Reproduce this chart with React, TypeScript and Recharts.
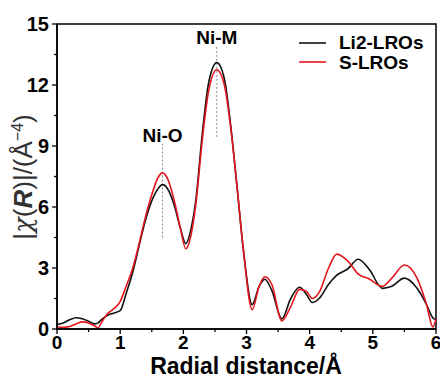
import {
  LineChart,
  Line,
  XAxis,
  YAxis,
  ReferenceArea,
  ReferenceLine,
  ReferenceDot,
} from 'recharts';

// radial distance (Å), shared by both curves
const radius = [
  0, 0.1, 0.2, 0.3, 0.4, 0.5, 0.6, 0.65, 0.7, 0.8, 0.9, 1.0, 1.1, 1.2, 1.3, 1.4,
  1.5, 1.6, 1.67, 1.75, 1.85, 1.95, 2.04, 2.12, 2.2, 2.3, 2.4, 2.53, 2.65, 2.75,
  2.85, 2.95, 3.09, 3.2, 3.29, 3.4, 3.56, 3.7, 3.84, 3.95, 4.04, 4.15, 4.3, 4.43,
  4.6, 4.77, 4.95, 5.15, 5.3, 5.5, 5.7, 5.85, 5.95, 6.0,
];

const li2LROs = [
  0.22, 0.3, 0.45, 0.55, 0.5, 0.38, 0.25, 0.3, 0.45, 0.68, 0.78, 0.9, 1.8, 2.8,
  4.1, 5.35, 6.3, 6.9, 7.1, 6.9, 6.15, 5.0, 4.2, 4.9, 6.4, 9.6, 12.1, 13.1, 12.3,
  10.0, 7.0, 3.9, 1.2, 2.1, 2.45, 1.9, 0.5, 1.5, 2.05, 1.7, 1.3, 1.5, 2.2, 2.65,
  2.95, 3.43, 2.9, 2.0, 2.1, 2.5, 2.0, 1.2, 0.55, 0.45,
];

const sLROs = [
  0.1, 0.08, 0.12, 0.25, 0.35, 0.3, 0.15, 0.05, 0.3, 0.75, 1.0, 1.35, 2.15, 3.0,
  4.2, 5.5, 6.6, 7.45, 7.68, 7.4, 6.4, 5.0, 3.95, 4.6, 6.2, 9.3, 11.7, 12.75,
  12.0, 9.9, 7.0, 3.9, 0.95, 2.1, 2.57, 2.2, 0.4, 1.1, 1.95, 1.85, 1.5, 1.8, 3.0,
  3.68, 3.35, 2.7, 2.45, 2.1, 2.5, 3.15, 2.5, 1.2, 0.1, 0.5,
];

const xTicks = [0, 0.5, 1, 1.5, 2, 2.5, 3, 3.5, 4, 4.5, 5, 5.5, 6];
const yTicks = [0, 1.5, 3, 4.5, 6, 7.5, 9, 10.5, 12, 13.5, 15];

// peak assignments: label, position, dotted guide from/to
const peakNames = ['Ni-O', 'Ni-M'];
const peakR = [1.67, 2.53];
const peakGuideFrom = [4.5, 9.45];
const peakGuideTo = [9.1, 13.9];

const seriesNames = ['Li2-LROs', 'S-LROs'];
const seriesColors = ['#111111', '#e3161d'];

const FONT = '"Liberation Sans", Arial, sans-serif';
const TICK_MARGIN = 10;

function XTick({ x, y, payload }: any) {
  const major = Number.isInteger(payload.value);
  const axisY = y - TICK_MARGIN;
  return (
    <g>
      <line x1={x} x2={x} y1={axisY} y2={axisY + (major ? 5 : 3)} stroke="#000" strokeWidth={1.3} />
      {major && (
        <text x={x} y={axisY + 20} textAnchor="middle" fontFamily={FONT} fontWeight="bold" fontSize={19} fill="#000">
          {payload.value}
        </text>
      )}
    </g>
  );
}

function YTick({ x, y, payload }: any) {
  const major = payload.value % 3 === 0;
  const axisX = x + TICK_MARGIN;
  return (
    <g>
      <line x1={axisX} x2={axisX - (major ? 5 : 3)} y1={y} y2={y} stroke="#000" strokeWidth={1.3} />
      {major && (
        <text x={axisX - 8} y={y} dy="0.36em" textAnchor="end" fontFamily={FONT} fontWeight="bold" fontSize={20} fill="#000">
          {payload.value}
        </text>
      )}
    </g>
  );
}

function YLabel() {
  return (
    <text transform="translate(32,177) rotate(-90)" textAnchor="middle" fontFamily={FONT} fontSize={26} fill="#333">
      <tspan>|</tspan>
      <tspan fontStyle="italic" fontFamily='"DejaVu Serif", serif'>χ</tspan>
      <tspan>(</tspan>
      <tspan fontWeight="bold" fontStyle="italic">R</tspan>
      <tspan>)|/(Å</tspan>
      <tspan dy={-9} fontSize={16}>−4</tspan>
      <tspan dy={9}>)</tspan>
    </text>
  );
}

function XLabel() {
  return (
    <text x={246} y={374} textAnchor="middle" fontFamily={FONT} fontWeight="bold" fontSize={23} fill="#000">
      Radial distance/Å
    </text>
  );
}

export default function App() {
  const rows = radius.map((r, i) => ({ r, li2: li2LROs[i], s: sLROs[i] }));

  return (
    <div style={{ position: 'absolute', left: 0, top: 0, width: 440, height: 378, background: '#fff' }}>
      <LineChart width={440} height={378} data={rows} margin={{ top: 24, right: 4, bottom: 0, left: 0 }}>
        <XAxis
          dataKey="r"
          type="number"
          domain={[0, 6]}
          ticks={xTicks}
          interval={0}
          tick={<XTick />}
          tickSize={0}
          tickMargin={TICK_MARGIN}
          height={49}
          axisLine={{ stroke: '#000', strokeWidth: 1.5 }}
          label={{ content: () => <XLabel /> }}
        />
        <YAxis
          type="number"
          domain={[0, 15]}
          ticks={yTicks}
          interval={0}
          tick={<YTick />}
          tickSize={0}
          tickMargin={TICK_MARGIN}
          width={57}
          axisLine={{ stroke: '#000', strokeWidth: 1.5 }}
          label={{ content: () => <YLabel /> }}
        />
        <ReferenceArea x1={0} x2={6} y1={0} y2={15} fill="none" stroke="#000" strokeWidth={1.5} />
        {peakNames.map((name, i) => (
          <ReferenceLine
            key={name + '-line'}
            segment={[
              { x: peakR[i], y: peakGuideFrom[i] },
              { x: peakR[i], y: peakGuideTo[i] },
            ]}
            stroke="#8a8a8a"
            strokeWidth={1}
            strokeDasharray="2 2"
          />
        ))}
        {peakNames.map((name, i) => (
          <ReferenceDot
            key={name}
            x={peakR[i]}
            y={peakGuideTo[i]}
            r={0}
            stroke="none"
            label={{
              value: name,
              position: 'top',
              offset: 2,
              fontFamily: FONT,
              fontWeight: 'bold',
              fontSize: 19,
              fill: '#000',
            }}
          />
        ))}
        <Line
          type="monotone"
          dataKey="li2"
          name={seriesNames[0]}
          stroke={seriesColors[0]}
          strokeWidth={1.6}
          dot={false}
          isAnimationActive={false}
        />
        <Line
          type="monotone"
          dataKey="s"
          name={seriesNames[1]}
          stroke={seriesColors[1]}
          strokeWidth={1.6}
          dot={false}
          isAnimationActive={false}
        />
      </LineChart>

      {/* legend, top right inside the frame */}
      <div style={{ position: 'absolute', left: 299, top: 33, fontFamily: FONT, fontWeight: 'bold', fontSize: 19 }}>
        {seriesNames.map((name, i) => (
          <div key={name} style={{ display: 'flex', alignItems: 'center', height: 19.5 }}>
            <svg width={27} height={4} style={{ marginRight: 13 }}>
              <line x1={0} x2={27} y1={2} y2={2} stroke={seriesColors[i]} strokeWidth={1.6} />
            </svg>
            <span style={{ lineHeight: '19.5px' }}>{name}</span>
          </div>
        ))}
      </div>
    </div>
  );
}
